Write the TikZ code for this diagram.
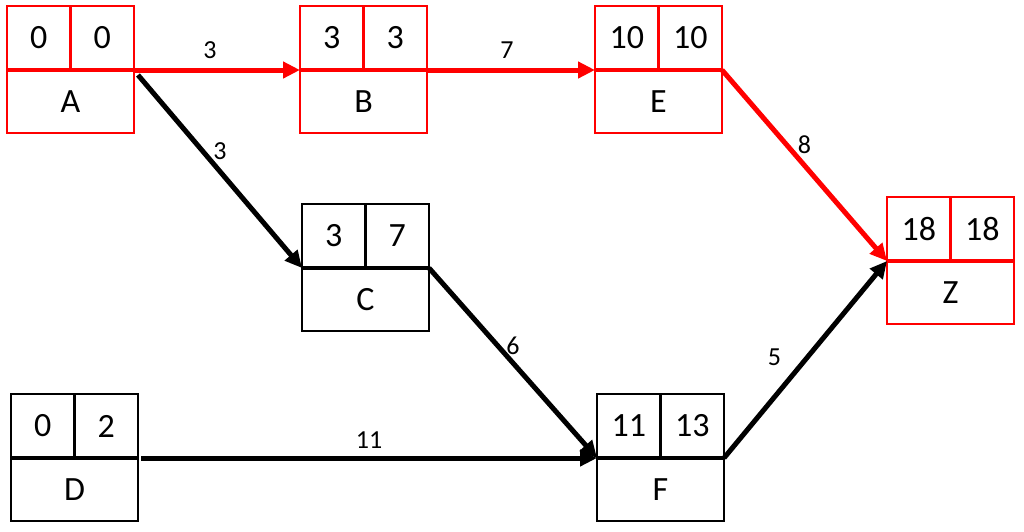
\documentclass[tikz,border=0pt]{standalone}
\usepackage{fontspec}
\setmainfont{Carlito}
\usetikzlibrary{arrows.meta}
\tikzset{
  cell/.style={draw, line width=2.25pt, inner sep=0pt, outer sep=0pt,
    minimum height=64pt, minimum width=63.5pt, font=\fontsize{34}{40}\selectfont},
  namecell/.style={cell, minimum width=127pt, minimum height=63pt},
  conn/.style={line width=5pt, -{Triangle[length=17pt,width=16pt]}},
  lbl/.style={font=\fontsize{26}{30}\selectfont, inner sep=0pt, text=black}
}
\newcommand\pertbox[7]{%
  \node[cell,draw=#1,anchor=north west] (#2-es) at (#3,#4) {#5};
  \node[cell,draw=#1,anchor=north west] (#2-ls) at (#3+63.5,#4) {#6};
  \node[namecell,draw=#1,anchor=north west] (#2) at (#3,#4+64) {#7};
  \draw[#1,line width=3.5pt] (#2.north west) -- (#2.north east);
}
\begin{document}
\begin{tikzpicture}[x=1pt,y=-1pt]
  \useasboundingbox (0,0) rectangle (1024,531);
  \pertbox{red}{A}{7}{6}{0}{0}{A}
  \pertbox{red}{B}{300}{6}{3}{3}{B}
  \pertbox{red}{E}{595}{6}{10}{10}{E}
  \pertbox{black}{C}{302}{204}{3}{7}{C}
  \pertbox{black}{D}{11}{394}{0}{2}{D}
  \pertbox{black}{F}{597}{394}{11}{13}{F}
  \pertbox{red}{Z}{887}{197}{18}{18}{Z}

  \draw[conn,red] (A.north east) -- node[lbl,xshift=-7pt,yshift=20pt] {3} (B.north west);
  \draw[conn,red] (B.north east) -- node[lbl,xshift=-4pt,yshift=20pt] {7} (E.north west);
  \draw[conn,red] (E.north east) -- node[lbl,yshift=21pt] {8} (Z.north west);
  \draw[conn] ([xshift=4pt,yshift=-5pt]A.north east) -- node[lbl,yshift=20pt] {3} (C.north west);
  \draw[conn] (C.north east) -- node[lbl,yshift=17pt] {6} (F.north west);
  \draw[conn] ([xshift=3pt]D.north east) -- node[lbl,yshift=18pt] {11} (F.north west);
  \draw[conn] (F.north east) -- node[lbl,xshift=-31pt,yshift=2pt] {5} (Z.north west);
\end{tikzpicture}
\end{document}
